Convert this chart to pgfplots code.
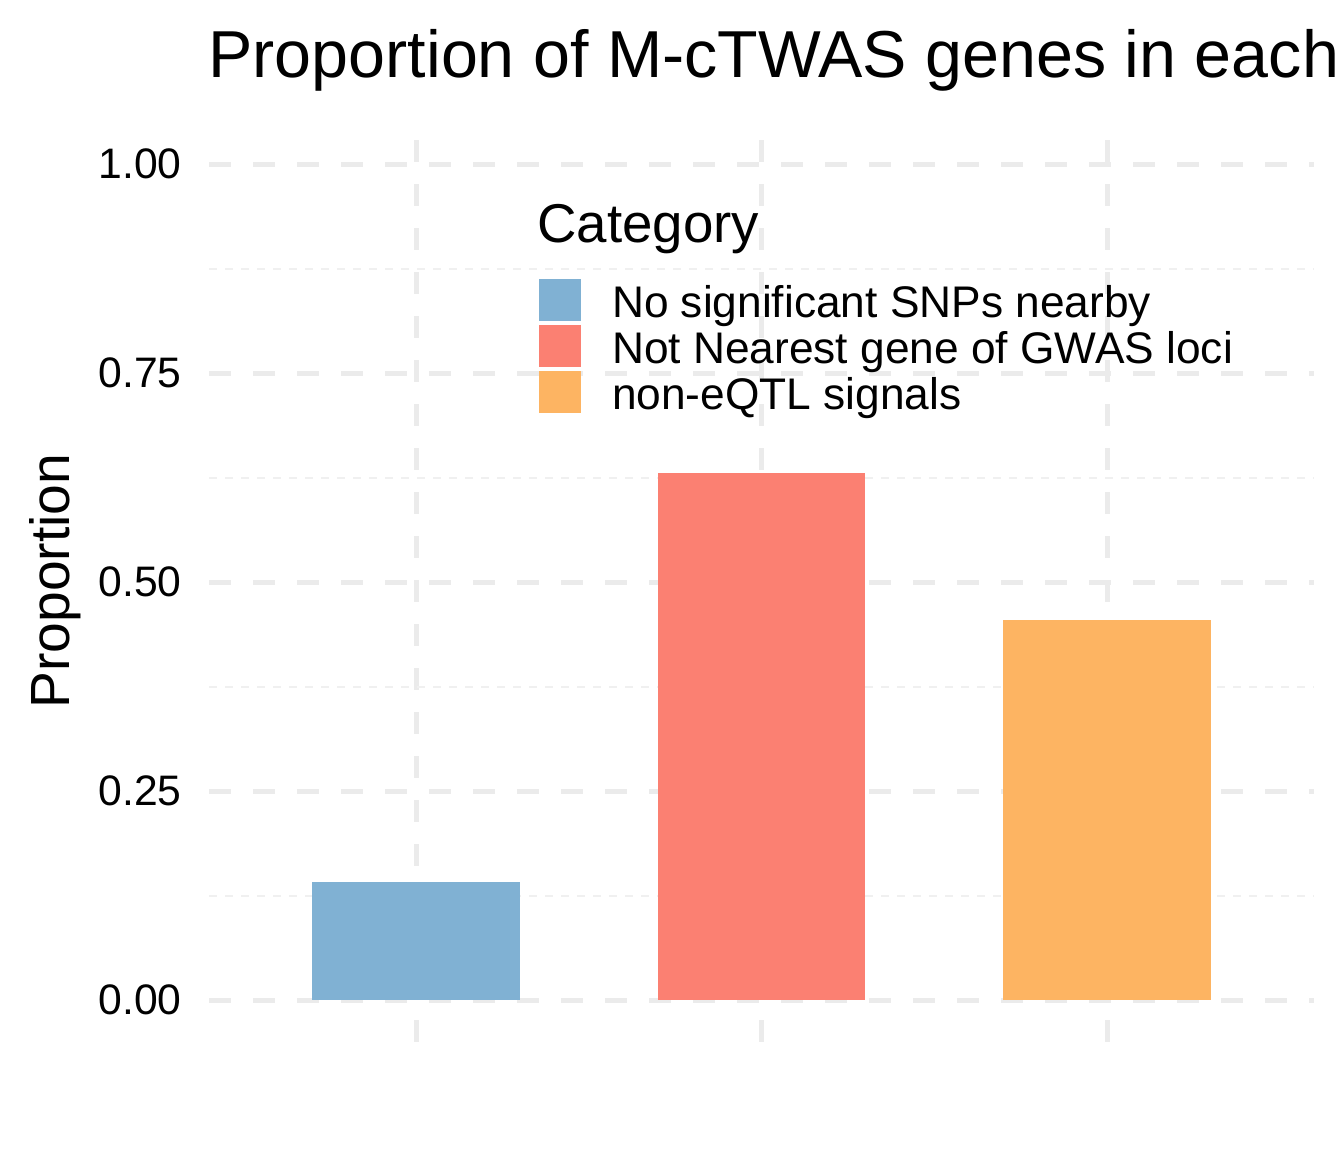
\documentclass[border=0pt]{standalone}
\usepackage{pgfplots}
\pgfplotsset{compat=1.18}
\usepackage{fontspec}
\setmainfont{Liberation Sans}
\definecolor{cblue}{HTML}{80B1D3}
\definecolor{cred}{HTML}{FB8072}
\definecolor{corange}{HTML}{FDB462}
\definecolor{gridc}{HTML}{EBEBEB}
\definecolor{gridm}{HTML}{F0F0F0}
\begin{document}
\begin{tikzpicture}
\useasboundingbox (0,0) rectangle (504pt,432pt);
\clip (0,0) rectangle (504pt,432pt);
\begin{axis}[
  at={(78.3pt,41.3pt)}, anchor=south west,
  scale only axis, width=414.6pt, height=344.85pt,
  xmin=0.4, xmax=3.6, ymin=-0.05, ymax=1.05,
  xtick={1,2,3}, xticklabels={,,},
  ytick={0,0.25,0.5,0.75,1},
  minor ytick={0.125,0.375,0.625,0.875},
  grid=both,
  major grid style={line width=1.875pt, draw=gridc, dash pattern=on 8.25pt off 8.25pt},
  minor grid style={line width=0.75pt, draw=gridm, dash pattern=on 3pt off 3pt},
  axis line style={draw=none},
  tick style={draw=none},
  major tick length=0pt, minor tick length=0pt,
  /pgf/number format/assume math mode=true,
  yticklabel style={font=\fontsize{16}{19}\selectfont, /pgf/number format/fixed, /pgf/number format/fixed zerofill, /pgf/number format/precision=2, inner sep=0pt, anchor=east, xshift=-10pt},
  ybar, bar width=0.6,
  legend cell align=left,
  legend style={at={(0.2988,0.8295)}, anchor=north west, draw=none, fill=none,
    inner sep=0pt, outer sep=0pt, row sep=1.5pt, column sep=11.6pt,
    font=\fontsize{16.6}{19}\selectfont,
    nodes={inner sep=0pt, text height=12.8pt, text depth=0pt}},
  legend image code/.code={\fill[#1] (0pt,-7.875pt) rectangle (15.75pt,7.875pt);},
]
\addplot[fill=cblue, draw=none, bar shift=0pt] coordinates {(1,0.141)};
\addlegendentry{No significant SNPs nearby}
\addplot[fill=cred, draw=none, bar shift=0pt] coordinates {(2,0.630)};
\addlegendentry{Not Nearest gene of GWAS loci}
\addplot[fill=corange, draw=none, bar shift=0pt] coordinates {(3,0.4545)};
\addlegendentry{non-eQTL signals}
\end{axis}
\node[anchor=base west, inner sep=0pt, font=\fontsize{24.9}{30}\selectfont] at (78pt,402.9pt) {Proportion of M-cTWAS genes in each};
\node[anchor=base west, inner sep=0pt, font=\fontsize{20.5}{24}\selectfont] at (201.3pt,340.9pt) {Category};
\node[rotate=90, anchor=base, inner sep=0pt, font=\fontsize{20.7}{24}\selectfont] at (25.9pt,214.1pt) {Proportion};
\end{tikzpicture}
\end{document}
